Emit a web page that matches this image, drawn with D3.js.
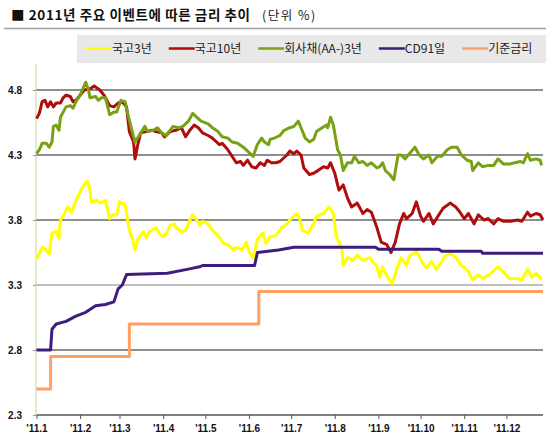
<!DOCTYPE html>
<html>
<head>
<meta charset="utf-8">
<script src="https://cdn.jsdelivr.net/npm/d3@7"></script>
<style>
  body { margin: 0; background: #fff; }
  svg { display: block; }
</style>
</head>
<body>
<div id="chart"></div>
<script>
// values, dates are 2011 "MM-DD"
const yTicks = [2.3, 2.8, 3.3, 3.8, 4.3, 4.8]
const tickDates = ["01-03", "02-03", "03-03", "04-03", "05-03", "06-03", "07-03", "08-03", "09-03", "10-03", "11-03", "12-03"]
const tickLabels = ["'11.1", "'11.2", "'11.3", "'11.4", "'11.5", "'11.6", "'11.7", "'11.8", "'11.9", "'11.10", "'11.11", "'11.12"]
const seriesNames = ["국고3년", "국고10년", "회사채(AA-)3년", "CD91일", "기준금리"]
const seriesColors = ["#ffff00", "#b00c0c", "#76a214", "#3e1e7c", "#ffa062"]

const ktb3 = [["01-03",3.50],["01-07",3.59],["01-10",3.57],["01-12",3.54],["01-14",3.70],["01-17",3.71],["01-19",3.66],["01-20",3.80],["01-23",3.85],["01-25",3.90],["01-28",3.86],["01-31",3.95],["02-04",4.04],["02-08",4.10],["02-10",4.03],["02-11",3.94],["02-15",3.95],["02-17",3.93],["02-21",3.95],["02-24",3.81],["02-26",3.84],["03-01",3.84],["03-03",3.94],["03-07",3.92],["03-10",3.72],["03-12",3.66],["03-14",3.57],["03-16",3.65],["03-20",3.71],["03-22",3.66],["03-24",3.71],["03-29",3.74],["03-31",3.70],["04-03",3.67],["04-06",3.71],["04-08",3.76],["04-11",3.77],["04-12",3.74],["04-16",3.71],["04-19",3.72],["04-22",3.80],["04-24",3.84],["04-27",3.80],["04-29",3.76],["05-01",3.79],["05-05",3.77],["05-08",3.72],["05-12",3.68],["05-16",3.62],["05-19",3.61],["05-23",3.57],["05-25",3.59],["05-29",3.57],["06-01",3.63],["06-03",3.56],["06-06",3.51],["06-09",3.65],["06-13",3.70],["06-15",3.62],["06-18",3.67],["06-22",3.68],["06-26",3.74],["06-30",3.77],["07-02",3.80],["07-07",3.85],["07-09",3.81],["07-11",3.72],["07-15",3.70],["07-19",3.77],["07-21",3.83],["07-26",3.85],["07-30",3.90],["08-02",3.85],["08-04",3.67],["08-08",3.59],["08-09",3.45],["08-12",3.51],["08-16",3.49],["08-19",3.53],["08-23",3.49],["08-28",3.51],["09-02",3.44],["09-04",3.36],["09-06",3.44],["09-10",3.35],["09-13",3.31],["09-16",3.42],["09-19",3.51],["09-23",3.45],["09-25",3.52],["09-30",3.56],["10-04",3.48],["10-07",3.43],["10-11",3.48],["10-14",3.42],["10-18",3.48],["10-21",3.53],["10-25",3.54],["10-28",3.51],["11-01",3.45],["11-05",3.42],["11-09",3.34],["11-13",3.38],["11-16",3.35],["11-21",3.38],["11-27",3.44],["12-01",3.40],["12-05",3.35],["12-10",3.35],["12-14",3.34],["12-18",3.42],["12-21",3.36],["12-24",3.39],["12-28",3.34]]

const ktb10 = [["01-03",4.58],["01-05",4.62],["01-07",4.71],["01-09",4.72],["01-11",4.67],["01-13",4.71],["01-15",4.67],["01-17",4.70],["01-20",4.70],["01-22",4.74],["01-24",4.76],["01-27",4.75],["01-29",4.71],["01-31",4.72],["02-03",4.76],["02-06",4.80],["02-10",4.81],["02-13",4.83],["02-17",4.80],["02-20",4.76],["02-24",4.68],["02-27",4.67],["03-02",4.70],["03-05",4.71],["03-08",4.67],["03-10",4.48],["03-13",4.40],["03-14",4.27],["03-16",4.38],["03-18",4.47],["03-22",4.48],["03-26",4.49],["03-29",4.48],["04-02",4.47],["04-04",4.44],["04-08",4.48],["04-12",4.49],["04-16",4.51],["04-19",4.44],["04-22",4.49],["04-25",4.53],["04-28",4.51],["05-01",4.47],["05-05",4.45],["05-08",4.43],["05-11",4.40],["05-13",4.38],["05-15",4.39],["05-19",4.34],["05-22",4.29],["05-25",4.24],["05-28",4.25],["05-30",4.22],["06-02",4.26],["06-05",4.21],["06-08",4.20],["06-11",4.24],["06-14",4.22],["06-16",4.26],["06-19",4.24],["06-22",4.24],["06-25",4.25],["06-30",4.30],["07-02",4.33],["07-05",4.31],["07-07",4.33],["07-10",4.30],["07-12",4.20],["07-16",4.15],["07-19",4.16],["07-22",4.18],["07-26",4.21],["07-29",4.20],["07-31",4.24],["08-03",4.16],["08-05",4.07],["08-06",4.03],["08-09",4.07],["08-12",3.97],["08-15",3.90],["08-19",3.93],["08-23",3.85],["08-26",3.88],["08-29",3.86],["09-02",3.74],["09-05",3.63],["09-09",3.61],["09-12",3.55],["09-15",3.63],["09-18",3.77],["09-21",3.85],["09-23",3.81],["09-27",3.85],["09-30",3.94],["10-03",3.83],["10-05",3.79],["10-09",3.85],["10-12",3.77],["10-16",3.84],["10-19",3.89],["10-24",3.93],["10-28",3.90],["10-31",3.86],["11-03",3.81],["11-06",3.85],["11-10",3.77],["11-13",3.84],["11-17",3.80],["11-20",3.81],["11-24",3.77],["11-27",3.81],["12-01",3.79],["12-06",3.79],["12-11",3.80],["12-14",3.79],["12-18",3.86],["12-20",3.83],["12-24",3.85],["12-27",3.84],["12-29",3.80]]

const corpAA3 = [["01-03",4.31],["01-05",4.34],["01-07",4.39],["01-10",4.39],["01-12",4.36],["01-14",4.40],["01-15",4.52],["01-17",4.53],["01-19",4.49],["01-20",4.59],["01-22",4.63],["01-24",4.67],["01-27",4.68],["01-29",4.66],["01-31",4.71],["02-03",4.76],["02-05",4.81],["02-07",4.86],["02-09",4.80],["02-10",4.74],["02-14",4.75],["02-16",4.72],["02-18",4.74],["02-21",4.74],["02-24",4.61],["02-27",4.63],["03-01",4.63],["03-04",4.72],["03-07",4.71],["03-09",4.61],["03-12",4.48],["03-14",4.40],["03-17",4.45],["03-21",4.52],["03-23",4.48],["03-27",4.49],["03-30",4.51],["04-02",4.47],["04-05",4.45],["04-08",4.49],["04-10",4.52],["04-14",4.51],["04-17",4.52],["04-21",4.56],["04-24",4.62],["04-27",4.59],["04-30",4.56],["05-05",4.54],["05-08",4.51],["05-12",4.48],["05-15",4.44],["05-19",4.43],["05-22",4.40],["05-26",4.39],["05-30",4.36],["06-02",4.33],["06-06",4.29],["06-09",4.38],["06-12",4.43],["06-14",4.40],["06-17",4.38],["06-18",4.42],["06-21",4.43],["06-25",4.45],["06-28",4.49],["07-02",4.51],["07-05",4.52],["07-08",4.56],["07-10",4.51],["07-13",4.43],["07-16",4.40],["07-19",4.42],["07-21",4.48],["07-25",4.51],["07-28",4.53],["07-29",4.51],["07-31",4.59],["08-02",4.53],["08-05",4.34],["08-07",4.30],["08-09",4.18],["08-12",4.24],["08-15",4.24],["08-17",4.29],["08-20",4.24],["08-23",4.25],["08-26",4.22],["08-29",4.24],["09-02",4.20],["09-04",4.21],["09-06",4.24],["09-08",4.18],["09-11",4.15],["09-14",4.11],["09-17",4.30],["09-19",4.30],["09-22",4.27],["09-25",4.31],["09-29",4.36],["10-02",4.30],["10-05",4.27],["10-09",4.30],["10-11",4.24],["10-15",4.29],["10-18",4.29],["10-22",4.34],["10-25",4.36],["10-29",4.36],["11-01",4.30],["11-05",4.26],["11-08",4.25],["11-09",4.18],["11-13",4.24],["11-16",4.21],["11-20",4.22],["11-24",4.22],["11-27",4.27],["12-01",4.23],["12-05",4.23],["12-09",4.24],["12-13",4.25],["12-15",4.24],["12-18",4.31],["12-20",4.26],["12-24",4.27],["12-27",4.26],["12-28",4.22]]

const cd91 = [["01-03",2.80],["01-13",2.80],["01-14",2.96],["01-17",3.00],["01-24",3.02],["01-31",3.06],["02-07",3.09],["02-14",3.14],["02-21",3.15],["02-27",3.17],["03-02",3.27],["03-05",3.30],["03-08",3.38],["04-06",3.39],["04-20",3.42],["04-29",3.44],["05-01",3.45],["06-07",3.45],["06-09",3.55],["06-24",3.57],["07-05",3.59],["09-01",3.59],["09-03",3.575],["10-16",3.575],["10-18",3.56],["11-15",3.56],["11-16",3.545],["12-29",3.545]]

const baseRate = [["01-03",2.50],["01-13",2.75],["03-10",3.00],["06-10",3.25],["12-29",3.25]]

const parseDay = s => d3.timeParse("%Y-%m-%d")("2011-" + s)
const allSeries = [ktb3, ktb10, corpAA3, cd91, baseRate]
  .map(rows => rows.map(([d, v]) => ({date: parseDay(d), value: v})))

const width = 550, height = 445
const svg = d3.select("#chart").append("svg")
  .attr("width", width)
  .attr("height", height)

const x = d3.scaleTime([parseDay("01-03"), parseDay("12-29")], [36.5, 543])
const y = d3.scaleLinear([2.3, 5.0], [415, 64])

// title
svg.append("text")
  .attr("x", 11)
  .attr("y", 20)
  .attr("font-family", "'Noto Sans CJK KR', sans-serif")
  .attr("font-size", 13.5)
  .attr("font-weight", "bold")
  .attr("fill", "#111")
  .style("letter-spacing", "0.6px")
  .text("■ 2011년 주요 이벤트에 따른 금리 추이")

svg.append("text")
  .attr("x", 262)
  .attr("y", 20)
  .attr("font-family", "'Noto Sans CJK KR', sans-serif")
  .attr("font-size", 12.5)
  .attr("fill", "#222")
  .style("letter-spacing", "1.5px")
  .text("(단위 %)")

svg.append("line")
  .attr("x1", 4).attr("x2", 546)
  .attr("y1", 28.5).attr("y2", 28.5)
  .attr("stroke", "#a0a0a0")
  .attr("stroke-width", 1.5)

// legend
const legend = svg.append("g")
legend.append("rect")
  .attr("x", 77).attr("y", 35)
  .attr("width", 469).attr("height", 28)
  .attr("fill", "#e8e8e8")

let lx = 86
seriesNames.forEach((name, i) => {
  const item = legend.append("g")
  item.append("line")
    .attr("x1", lx).attr("x2", lx + 26)
    .attr("y1", 48.5).attr("y2", 48.5)
    .attr("stroke", seriesColors[i])
    .attr("stroke-width", 2.5)
  const t = item.append("text")
    .attr("x", lx + 26)
    .attr("y", 53)
    .attr("font-family", "'Noto Sans CJK KR', sans-serif")
    .attr("font-size", 12)
    .attr("fill", "#222")
    .text(name)
  lx += 26 + t.node().getComputedTextLength() + 17
})

// grid
svg.append("g")
  .selectAll("line")
  .data(yTicks.filter(d => d > 2.3))
  .join("line")
    .attr("x1", 36).attr("x2", 543)
    .attr("y1", d => y(d)).attr("y2", d => y(d))
    .attr("stroke", d => d === 3.3 ? "#ababab" : "#6a6a6a")
    .attr("stroke-width", 1.6)

// y axis
const yAxis = svg.append("g")
  .attr("transform", "translate(36,0)")
  .call(d3.axisLeft(y).tickValues(yTicks).tickSize(3).tickFormat(d3.format(".1f")))
yAxis.select(".domain")
  .attr("stroke", "#c4d79b")
  .attr("d", `M0,${y(5.0)}V${y(2.3)}`)
yAxis.selectAll(".tick line").attr("stroke", "#999")
yAxis.selectAll("text")
  .attr("x", -14)
  .attr("font-family", "'Liberation Sans', Arial, sans-serif")
  .attr("font-size", 10)
  .attr("font-weight", "bold")
  .attr("fill", "#111")

// x axis
const xAxis = svg.append("g")
  .attr("transform", `translate(0,${y(2.3)})`)
  .call(d3.axisBottom(x)
    .tickValues(tickDates.map(parseDay))
    .tickSize(4)
    .tickSizeOuter(0)
    .tickFormat((d, i) => tickLabels[i]))
xAxis.select(".domain")
  .attr("stroke", "#555")
  .attr("stroke-width", 1.5)
  .attr("d", `M${x.range()[0]},0H${x.range()[1]}`)
xAxis.selectAll(".tick line").attr("stroke", "#555")
xAxis.selectAll("text")
  .attr("y", 10)
  .attr("font-family", "'Liberation Sans', Arial, sans-serif")
  .attr("font-size", 10)
  .attr("font-weight", "bold")
  .attr("fill", "#111")

// series lines
const line = d3.line()
  .x(d => x(d.date))
  .y(d => y(d.value))

svg.append("g")
  .attr("fill", "none")
  .attr("stroke-width", 3)
  .attr("stroke-linejoin", "round")
  .selectAll("path")
  .data(allSeries)
  .join("path")
    .attr("stroke", (d, i) => seriesColors[i])
    .attr("d", (d, i) => i === 4 ? line.curve(d3.curveStepAfter)(d) : line.curve(d3.curveLinear)(d))
</script>
</body>
</html>
